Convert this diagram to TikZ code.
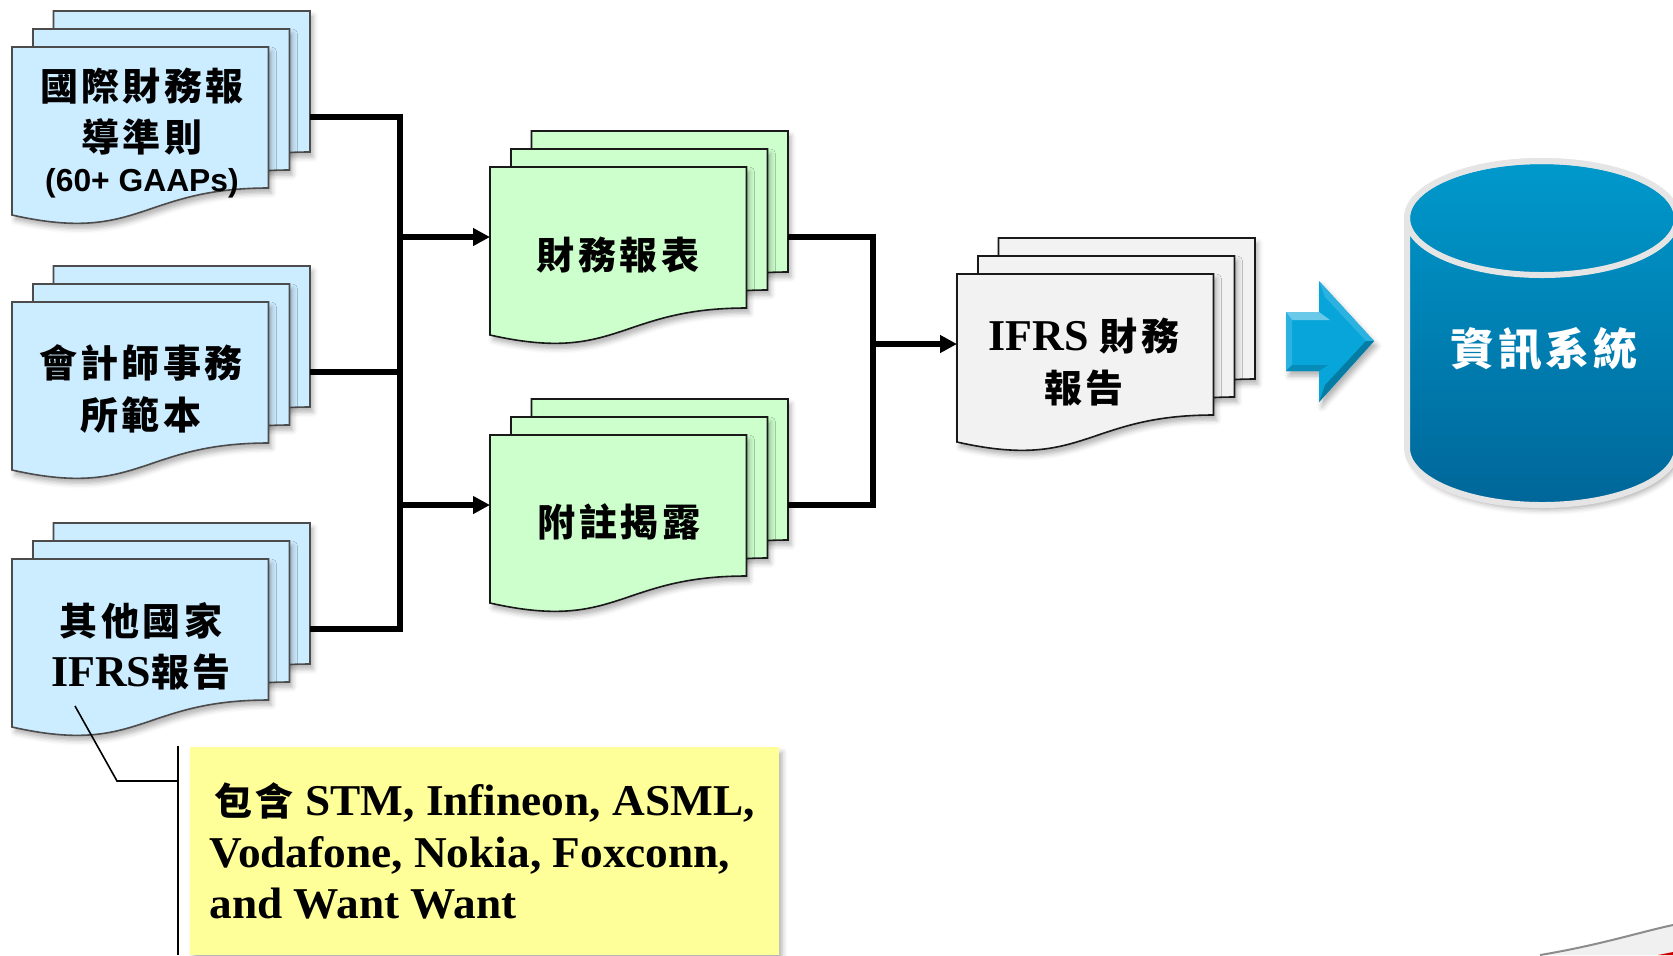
\documentclass[tikz,border=0pt]{standalone}
\usepackage{fontspec}
\setmainfont{Liberation Serif}
\setsansfont{Liberation Sans}
\newfontfamily\cjk[LetterSpace=9]{Noto Sans CJK TC}
\newfontfamily\notefont[FakeStretch=1.03]{Liberation Serif}
\usetikzlibrary{arrows.meta,shadows.blur}
\definecolor{sheetblue}{HTML}{CCECFF}
\definecolor{sheetgreen}{HTML}{CCFFCC}
\definecolor{sheetgray}{HTML}{F2F2F2}
\definecolor{noteyellow}{HTML}{FFFF99}
\definecolor{arrowblue}{HTML}{07A5DA}
\definecolor{dbtop}{HTML}{0099CC}
\definecolor{dbbottom}{HTML}{006699}
\tikzset{
  softshadow/.style = { blur shadow={shadow xshift=1.5pt, shadow yshift=-2.5pt, shadow blur radius=2.5pt, shadow opacity=30} },
  sheet/.style    = { line width=0.8pt, softshadow },
  stackbox/.style = { minimum width=149pt, minimum height=106pt, inner sep=0pt, outer sep=0pt },
  sheettext/.style = { align=center, inner sep=0pt, font=\fontsize{19}{25.6}\selectfont\bfseries },
  connect/.style  = { line width=2.6pt, black },
  connect_a/.style = { connect, -{Triangle[length=8.5pt,width=8.5pt]} },
  notebox/.style  = { anchor=north west, fill=noteyellow, minimum width=294.5pt, minimum height=104pt, inner sep=0pt, softshadow },
  notetext/.style = { anchor=west, inner sep=0pt, align=left, font=\notefont\fontsize{22}{25.6}\selectfont\bfseries },
  notice/.style   = { line width=0.8pt, black }
}
\newcommand{\zh}[1]{{\cjk\fontsize{19}{25.6}\selectfont #1}}
\newcommand{\docstack}[4]{
  \node[stackbox] (#1) at (#2) {};
  \begin{scope}[shift={(#1.north west)}]
    \foreach \dx/\dy in {41.5/0, 21/18, 0/36} {
      \draw[sheet, fill=#3, draw=#4, shift={(\dx,\dy)}] (0,0) -- (256.5,0) -- (256.5,141)
        .. controls (128,141) and (128,197) .. (0,168) -- cycle;
    }
  \end{scope}
}

\begin{document}
\begin{tikzpicture}[x=0.5pt,y=-0.5pt]
\useasboundingbox (0,0) rectangle (1673,955);
\clip (0,0) rectangle (1673,955);

% corner of the slide
\fill[black!6] (1540,955) .. controls (1600,945) and (1640,932) .. (1673,925) -- (1673,955) -- cycle;
\draw[black!45, line width=1pt] (1540,955) .. controls (1600,945) and (1640,932) .. (1673,925);
\fill[red!80!black] (1658,955) -- (1673,952) -- (1673,955) -- cycle;

\docstack{gaap}{161,117}{sheetblue}{black!70}
\docstack{audit}{161,372}{sheetblue}{black!70}
\docstack{other}{161,629}{sheetblue}{black!70}
\docstack{stmt}{639,237}{sheetgreen}{black!90}
\docstack{notes}{639,505}{sheetgreen}{black!90}
\docstack{report}{1106,344}{sheetgray}{black!90}

\node[sheettext] (gaap_txt) at (142,133) {\zh{國際財務報}\\\zh{導準則}\\[-6pt]{\sffamily\fontsize{15.9}{18}\selectfont (60+ GAAPs)}};
\node[sheettext] (audit_txt) at (141,389) {\zh{會計師事務}\\\zh{所範本}};
\node[sheettext] (other_txt) at (141,646) {\zh{其他國家}\\{\fontsize{22}{25.6}\selectfont IFRS}\zh{報告}};
\node[sheettext] (stmt_txt) at (618,255) {\zh{財務報表}};
\node[sheettext] (notes_txt) at (619,522) {\zh{附註揭露}};
\node[sheettext] (report_txt) at (1084,362) {\fontsize{22}{25.6}\selectfont IFRS \zh{財務}\\\zh{報告}};

\coordinate (bus_a) at (400,237);
\coordinate (bus_b) at (400,505);
\coordinate (bus_c) at (873,344);
\draw[connect] (gaap.east) -| (bus_b) |- (other.east);
\draw[connect] (audit.east) -- (audit.east -| bus_a);
\draw[connect_a] (bus_a) -- (stmt.west);
\draw[connect_a] (bus_b) -- (notes.west);
\draw[connect] (stmt.east) -| (bus_c) |- (notes.east);
\draw[connect_a] (bus_c) -- (report.west);

% block arrow
\fill[arrowblue, softshadow] (1286,312) -- (1319,312) -- (1319,281) -- (1374,341) -- (1319,402) -- (1319,371) -- (1286,371) -- cycle;
\fill[arrowblue!60!white] (1286,312) -- (1319,312) -- (1330,320) -- (1292,320) -- cycle;
\fill[arrowblue!85!white] (1286,312) -- (1292,320) -- (1292,365) -- (1286,371) -- cycle;
\fill[arrowblue!85!white] (1319,281) -- (1374,341) -- (1366,341) -- (1325,297) -- cycle;
\fill[arrowblue!75!black] (1374,341) -- (1319,402) -- (1325,385) -- (1366,341) -- cycle;
\fill[arrowblue!85!black] (1286,371) -- (1319,371) -- (1328,365) -- (1292,365) -- cycle;

% database
\draw[draw=black!10, line width=3pt, top color=dbtop, bottom color=dbbottom, softshadow] (1407,218) -- (1407,448)
  .. controls (1407,479.5) and (1467.4,505) .. (1542,505)
  .. controls (1616.6,505) and (1677,479.5) .. (1677,448) -- (1677,218)
  .. controls (1677,186.5) and (1616.6,161) .. (1542,161)
  .. controls (1467.4,161) and (1407,186.5) .. (1407,218) -- cycle;
\draw[black!10, line width=3pt] (1542,218) ellipse [x radius=135, y radius=57];
\node[inner sep=0pt, text=white, font=\bfseries] (db_txt) at (1544,349) {{\cjk\fontsize{22}{25.6}\selectfont 資訊系統}};

% note
\node[notebox] (note) at (190,747) {};
\node[notetext] (note_txt) at (209,851) {\hspace{2.5pt}\zh{包含} STM, Infineon, ASML,\\Vodafone, Nokia, Foxconn,\\and Want Want};
\coordinate (note_tip) at (75,706);
\coordinate (note_elbow) at (117,781);
\coordinate (note_bar) at (178,781);
\coordinate (bar_top) at (178,746);
\coordinate (bar_end) at (178,955);
\draw[notice] (note_tip) -- (note_elbow) -- (note_bar);
\draw[notice] (bar_top) -- (bar_end);
\end{tikzpicture}
\end{document}
